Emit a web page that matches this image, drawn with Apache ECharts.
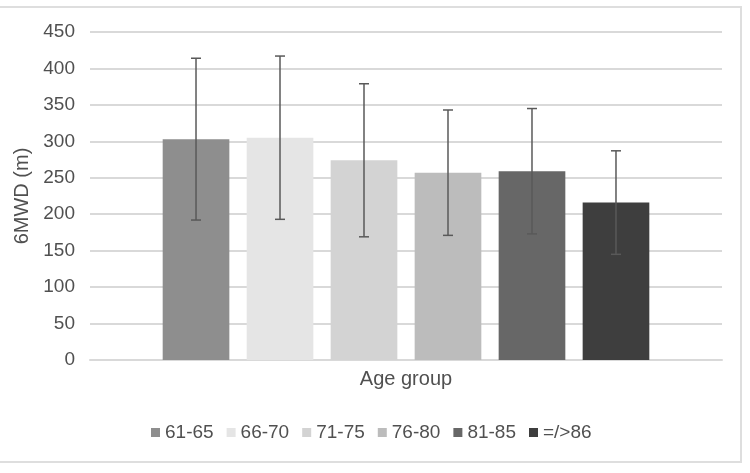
<!DOCTYPE html>
<html>
<head>
<meta charset="utf-8">
<script src="https://cdn.jsdelivr.net/npm/echarts@6/dist/echarts.min.js"></script>
<style>
html,body{margin:0;padding:0;background:#fff;}
#chart{width:750px;height:473px;}
</style>
</head>
<body>
<div id="chart"></div>
<script>
// Data
const categories = ['Age group'];
const groups = ['61-65', '66-70', '71-75', '76-80', '81-85', '=/>86'];
const means = [303, 305, 274, 257, 259, 216];
const sds = [111, 112, 105, 86, 86, 71];
const yTicks = [0, 50, 100, 150, 200, 250, 300, 350, 400, 450];

const colors = ['#8e8e8e', '#e5e5e5', '#d3d3d3', '#bcbcbc', '#676767', '#3e3e3e'];
const CAT_GAP = 0.23, BAR_GAP = 0.26;

const chart = echarts.init(document.getElementById('chart'));

const barSeries = groups.map((g, i) => ({
  name: g,
  type: 'bar',
  data: [means[i]],
  itemStyle: { color: colors[i] },
  barCategoryGap: (CAT_GAP * 100) + '%',
  barGap: (BAR_GAP * 100) + '%',
  z: 2
}));

const errData = groups.map((g, i) => [0, means[i] - sds[i], means[i] + sds[i], i]);

const errSeries = {
  type: 'custom',
  name: 'err',
  data: errData,
  z: 10,
  renderItem: function (params, api) {
    const idx = api.value(3);
    const lo = api.coord([api.value(0), api.value(1)]);
    const hi = api.coord([api.value(0), api.value(2)]);
    const band = api.size([1, 0])[0];
    const inner = band * (1 - CAT_GAP);
    const n = groups.length;
    const bw = inner / (n + (n - 1) * BAR_GAP);
    const x = lo[0] - inner / 2 + idx * bw * (1 + BAR_GAP) + bw / 2;
    const cap = 5;
    const style = { stroke: '#595959', lineWidth: 1.5 };
    return {
      type: 'group',
      children: [
        { type: 'line', shape: { x1: x, y1: hi[1], x2: x, y2: lo[1] }, style: style },
        { type: 'line', shape: { x1: x - cap, y1: hi[1], x2: x + cap, y2: hi[1] }, style: style },
        { type: 'line', shape: { x1: x - cap, y1: lo[1], x2: x + cap, y2: lo[1] }, style: style }
      ]
    };
  }
};

chart.setOption({
  animation: false,
  backgroundColor: '#fff',
  textStyle: { fontFamily: 'Liberation Sans, Arial, sans-serif' },
  graphic: [{
    type: 'rect',
    shape: { x: -2, y: 7, width: 743, height: 455 },
    style: { fill: 'none', stroke: '#dedede', lineWidth: 2 },
    silent: true
  }],
  grid: { left: 90, right: 28, top: 32, bottom: 113 },
  legend: {
    data: groups,
    bottom: 26,
    left: 146,
    itemWidth: 9,
    itemHeight: 9,
    itemGap: 13,
    icon: 'rect',
    textStyle: { fontSize: 19, color: '#505050' }
  },
  xAxis: {
    type: 'category',
    data: categories,
    axisLine: { lineStyle: { color: '#d9d9d9', width: 2 } },
    axisTick: { show: false },
    axisLabel: { fontSize: 20, color: '#505050', margin: 9 }
  },
  yAxis: {
    type: 'value',
    min: yTicks[0],
    max: yTicks[yTicks.length - 1],
    interval: 50,
    name: '6MWD (m)',
    nameLocation: 'middle',
    nameRotate: 90,
    nameGap: 41,
    nameTextStyle: { fontSize: 20, color: '#505050' },
    axisLine: { show: false },
    axisTick: { show: false },
    axisLabel: { fontSize: 19, color: '#505050', margin: 15 },
    splitLine: { lineStyle: { color: '#d9d9d9', width: 2 } }
  },
  series: barSeries.concat([errSeries])
});
</script>
</body>
</html>
